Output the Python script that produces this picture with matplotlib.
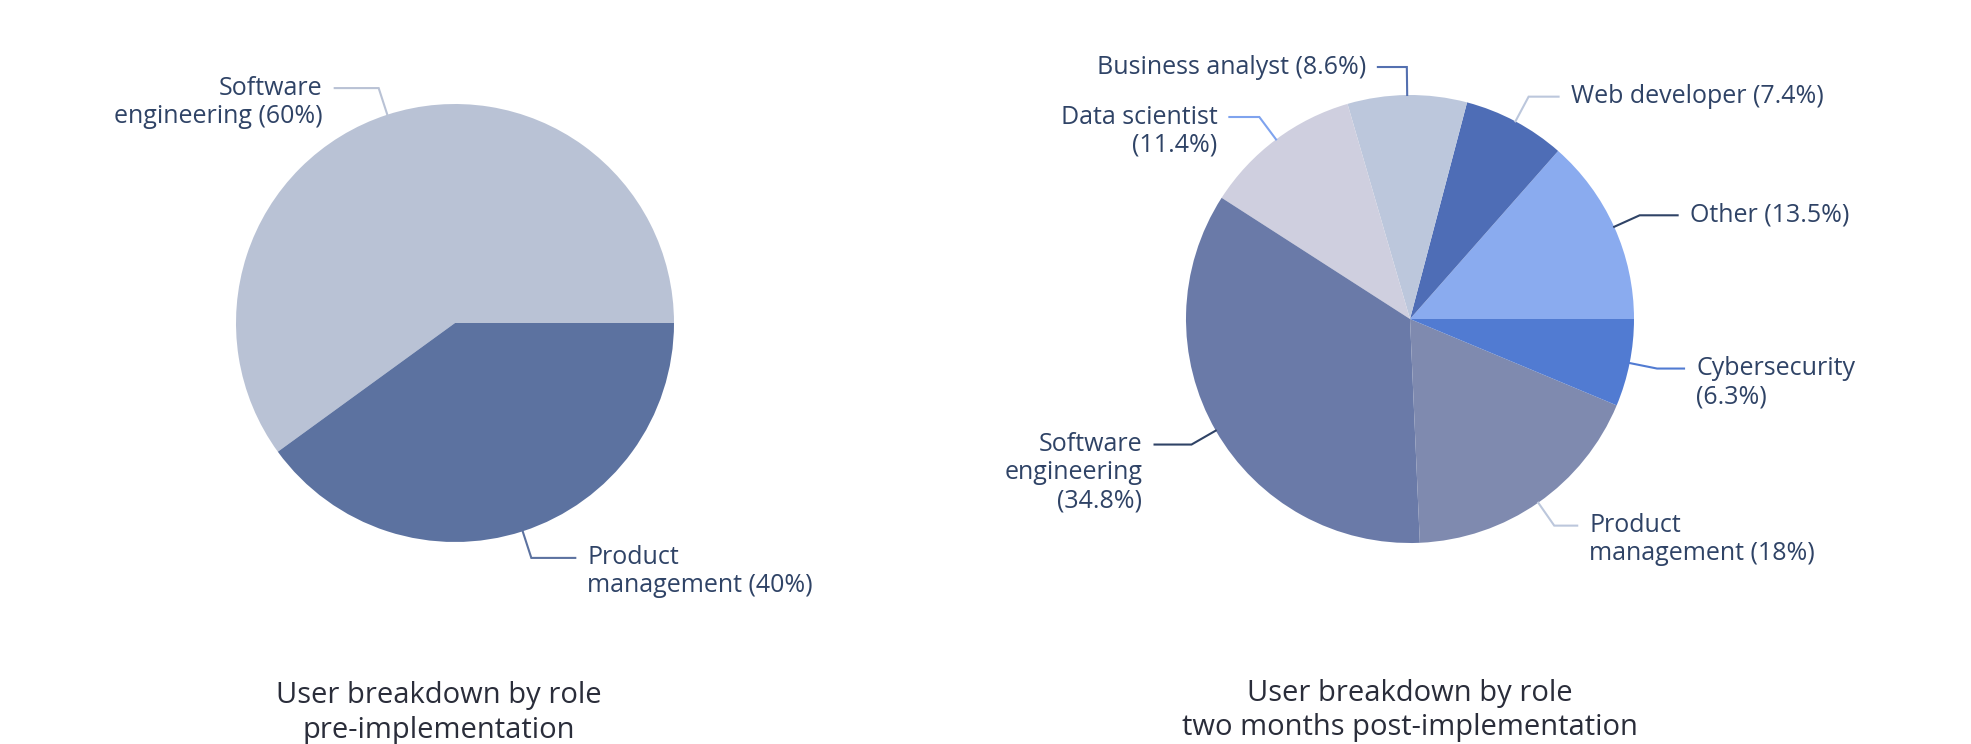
import matplotlib
matplotlib.use("Agg")
import matplotlib.pyplot as plt
import numpy as np

W, H = 1971, 744

# ---- data ----
pre_labels = ["Software\nengineering ({}%)", "Product\nmanagement ({}%)"]
pre_values = [60, 40]
pre_colors = ["#B9C2D5", "#5C72A0"]
pre_line_colors = ["#B9C2D5", "#5C72A0"]

post_labels = ["Other ({}%)", "Web developer ({}%)", "Business analyst ({}%)",
               "Data scientist\n({}%)", "Software\nengineering\n({}%)",
               "Product\nmanagement ({}%)", "Cybersecurity\n({}%)"]
post_values = [13.5, 7.4, 8.6, 11.4, 34.8, 18, 6.3]
post_colors = ["#8AABEF", "#4E6DB6", "#BCC7DC", "#CFCFDF", "#6A7AA8", "#7F8AAF", "#517BD2"]
post_line_colors = ["#2F4366", "#BCC7DC", "#5470B0", "#7FA3EE", "#2F4366", "#BCC7DC", "#517BD2"]

titles = ["User breakdown by role\npre-implementation",
          "User breakdown by role\ntwo months post-implementation"]

# ---- layout ----
FONT = "Open Sans"
TEXT_COLOR = "#2F4366"
TITLE_COLOR = "#2A2D3A"
LABEL_SIZE = 18
TITLE_SIZE = 21
LINE_H = 28

fig = plt.figure(figsize=(W / 100, H / 100), dpi=100)
ax = fig.add_axes([0, 0, 1, 1])


def draw_pie(values, colors, line_colors, labels, center_img, r, seg_lens,
             title, title_xy):
    cx, cy = center_img[0], H - center_img[1]
    wedges, _ = ax.pie(values, colors=colors, center=(cx, cy), radius=r,
                       startangle=0, counterclock=True,
                       wedgeprops=dict(linewidth=0))
    for w, lab, val, seg, col in zip(wedges, labels, values, seg_lens, line_colors):
        ang = np.deg2rad((w.theta1 + w.theta2) / 2)
        dx, dy = np.cos(ang), np.sin(ang)
        p0 = (cx + (r - 1) * dx, cy + (r - 1) * dy)
        p1 = (cx + (r + 28) * dx, cy + (r + 28) * dy)
        side = 1 if dx >= 0 else -1
        p2 = (p1[0] + side * seg, p1[1])
        ax.plot([p0[0], p1[0], p2[0]], [p0[1], p1[1], p2[1]], color=col,
                lw=1.5, solid_joinstyle="miter", solid_capstyle="butt")
        text = lab.format(f"{val:g}")
        for i, line in enumerate(text.split("\n")):
            ax.text(p2[0] + side * 11, p1[1] - i * LINE_H, line,
                    ha="left" if side > 0 else "right", va="center",
                    fontsize=LABEL_SIZE, color=TEXT_COLOR, family=FONT)
    tx, ty = title_xy
    for i, line in enumerate(title.split("\n")):
        ax.text(tx, H - ty - i * 34.5, line, ha="center", va="center",
                fontsize=TITLE_SIZE, color=TITLE_COLOR, family=FONT)


draw_pie(pre_values, pre_colors, pre_line_colors, pre_labels, (455, 323), 219,
         [45, 45], titles[0], (439, 696))
draw_pie(post_values, post_colors, post_line_colors, post_labels, (1410, 319), 224,
         [39, 31, 30, 31, 38, 24, 28], titles[1], (1410, 693))

ax.set_xlim(0, W)
ax.set_ylim(0, H)
ax.set_aspect("equal")
ax.axis("off")

fig.savefig("out.png", dpi=100, facecolor="white")
